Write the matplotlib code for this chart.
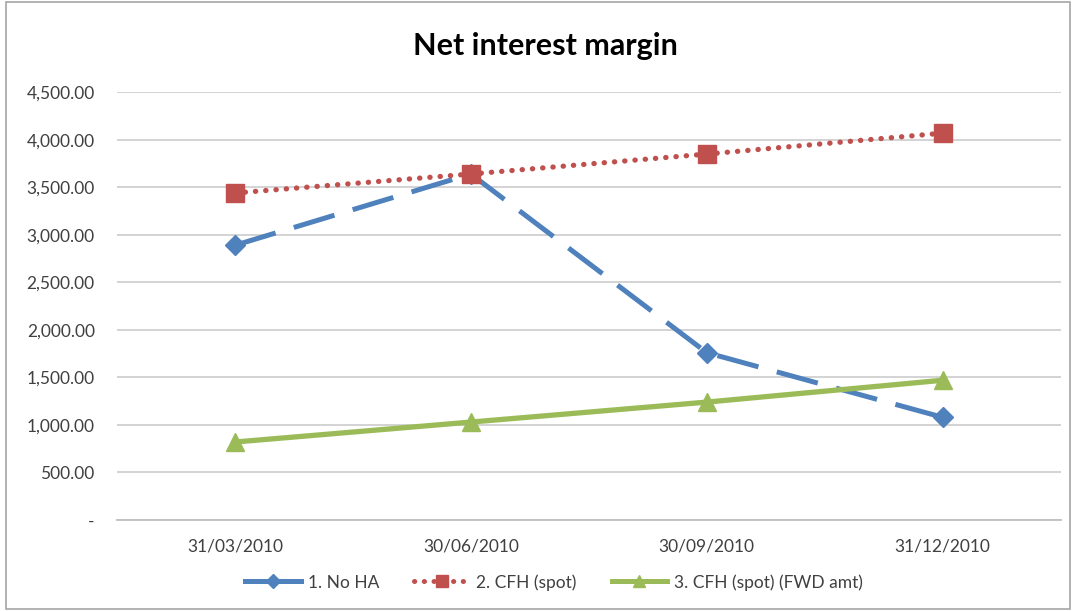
import matplotlib
matplotlib.use("Agg")
import matplotlib.pyplot as plt
from matplotlib.patches import Rectangle
from matplotlib.ticker import FuncFormatter
from matplotlib.lines import Line2D

categories = ["31/03/2010", "30/06/2010", "30/09/2010", "31/12/2010"]
no_ha = [2890, 3640, 1760, 1080]
cfh_spot = [3440, 3640, 3850, 4070]
cfh_fwd = [820, 1030, 1240, 1470]
yticks = [0, 500, 1000, 1500, 2000, 2500, 3000, 3500, 4000, 4500]
title = "Net interest margin"
labels = ["1. No HA", "2. CFH (spot)", "3. CFH (spot) (FWD amt)"]

plt.rcParams['font.family'] = ['Lato', 'DejaVu Sans']

fig = plt.figure(figsize=(10.76, 6.11), dpi=100)
ax = fig.add_axes([0.1087, 0.149, 0.877, 0.700])

x = list(range(len(categories)))
blue = "#4F81BD"
red = "#C0504D"
green = "#9BBB59"

ax.plot(x, no_ha, color=blue, lw=3.6, linestyle=(0, (8.5, 3.8)),
        marker="D", markersize=10.5, markeredgecolor=blue, zorder=3)
ax.plot(x, cfh_spot, color=red, lw=3.8, linestyle=(0, (0.05, 1.9)),
        dash_capstyle="round", marker="s", markersize=12.5, markeredgecolor=red, zorder=4)
ax.plot(x, cfh_fwd, color=green, lw=3.8, linestyle="-",
        marker="^", markersize=12.5, markeredgecolor=green, zorder=3)

ax.set_xlim(-0.5, len(categories) - 0.5)
ax.set_ylim(0, 4500)
ax.set_yticks(yticks)
ax.yaxis.set_major_formatter(FuncFormatter(lambda v, p: "-" if v == 0 else f"{v:,.2f}"))
ax.set_xticks(x)
ax.set_xticklabels(categories)

ax.grid(axis="y", color="#D0D0D0", lw=1.3)
ax.set_axisbelow(True)
for s in ["top", "right", "left"]:
    ax.spines[s].set_visible(False)
ax.spines["bottom"].set_color("#BFBFBF")
ax.spines["bottom"].set_linewidth(1.3)
ax.tick_params(axis="y", length=0, pad=16, labelsize=12.5, labelcolor="#404040")
ax.tick_params(axis="x", length=0, pad=13, labelsize=12.5, labelcolor="#404040")

fig.text(0.507, 0.925, title, ha="center", va="center", fontsize=22, fontweight="bold", color="black")

handles = [
    Line2D([], [], color=blue, lw=3.6, marker="D", markersize=7),
    Line2D([], [], color=red, lw=3.6, linestyle=(0, (0.05, 1.9)), dash_capstyle="round",
           marker="s", markersize=9),
    Line2D([], [], color=green, lw=3.6, marker="^", markersize=9),
]
leg = fig.legend(handles, labels, loc="center", bbox_to_anchor=(0.515, 0.047), ncol=3,
                 frameon=False, fontsize=12.5, handlelength=3.2, columnspacing=2.0,
                 handletextpad=0.4)
for t in leg.get_texts():
    t.set_color("#404040")

fig.patches.append(Rectangle((0.006, 0.004), 0.988, 0.992, transform=fig.transFigure,
                             fill=False, edgecolor="#A6A6A6", lw=1.2))

fig.savefig("out.png", dpi=100)
